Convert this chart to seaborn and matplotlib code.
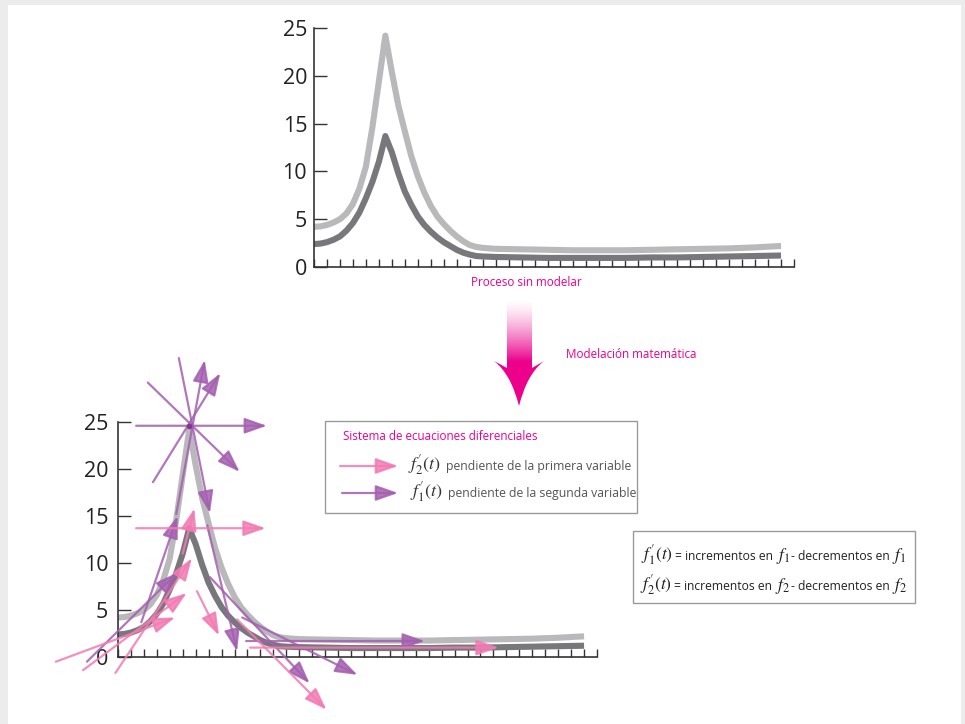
import numpy as np
import pandas as pd
import matplotlib
matplotlib.use("Agg")
import matplotlib.pyplot as plt
import seaborn as sns
from matplotlib.patches import Rectangle, PathPatch
from matplotlib.path import Path

# ---- data -------------------------------------------------------------
t = [0, 0.5, 1, 1.5, 2, 2.5, 3, 3.5, 4, 4.5, 5, 5.5, 6, 6.5, 7, 7.5, 8,
     8.5, 9, 9.5, 10, 10.5, 11, 11.5, 12, 12.5, 13, 14, 16, 18, 20, 22,
     24, 26, 28, 30, 32, 34, 36]
f_light = [4.2, 4.25, 4.4, 4.65, 5.0, 5.6, 6.6, 8.2, 10.5, 14.6, 19.4,
           24.2, 20.4, 16.9, 14.2, 11.6, 9.5, 7.8, 6.4, 5.3, 4.5, 3.8, 3.2,
           2.7, 2.3, 2.1, 2.0, 1.9, 1.85, 1.8, 1.75, 1.75, 1.75, 1.8, 1.85,
           1.9, 1.95, 2.05, 2.2]
f_dark = [2.4, 2.45, 2.6, 2.85, 3.2, 3.8, 4.6, 5.7, 7.2, 8.9, 11.0, 13.7,
          12.0, 9.8, 7.9, 6.5, 5.3, 4.4, 3.7, 3.1, 2.6, 2.2, 1.8, 1.5, 1.3,
          1.15, 1.1, 1.05, 1.0, 0.95, 0.95, 0.95, 0.95, 1.0, 1.0, 1.05,
          1.1, 1.15, 1.2]

x_ticks = list(range(0, 38))
y_ticks = [0, 5, 10, 15, 20, 25]

# slope arrows on the modelled chart: (t start, value start, t end, value end)
purple_arrows = [
    (1.4, 24.6, 11.5, 24.6),
    (2.7, 18.6, 7.9, 30.2),
    (4.5, 15.2, 6.7, 31.6),
    (4.7, 31.8, 7.1, 15.3),
    (2.3, 29.2, 9.4, 19.7),
    (-2.4, -0.5, 4.6, 9.0),
    (1.8, 3.7, 4.6, 15.0),
    (6.9, 14.0, 9.2, 0.6),
    (7.1, 8.5, 14.8, -2.8),
    (9.6, 4.2, 18.5, -1.9),
    (9.9, 1.7, 23.7, 1.7),
]
pink_arrows = [
    (1.4, 13.7, 11.4, 13.7),
    (10.2, 1.0, 29.4, 1.0),
    (-4.8, -0.5, 4.4, 4.2),
    (-2.7, -1.4, 5.3, 6.8),
    (-0.2, -1.7, 5.7, 10.5),
    (5.0, 11.0, 5.9, 15.8),
    (6.1, 7.0, 7.8, 2.3),
    (9.2, 4.0, 16.1, -5.6),
]
star_center = (5.5, 24.6)

# ---- style ------------------------------------------------------------
LIGHT = "#b9b9bc"
DARK = "#78787c"
PURPLE = "#a45fb0"
PINK = "#f27bb3"
MAGENTA = "#ec008c"
AXIS = "#333333"
TEXT_GREY = "#555555"

sns.set_theme(style="white")
plt.rcParams["font.family"] = ["Open Sans", "DejaVu Sans"]
plt.rcParams["mathtext.fontset"] = "stix"

W, H = 965, 724
fig = plt.figure(figsize=(W / 100, H / 100), dpi=100, facecolor="#ececec")

# background canvas in pixel coordinates
bg = fig.add_axes([0, 0, 1, 1], zorder=0)
bg.set_axis_off()
bg.add_patch(Rectangle((8, 5), 953, 720, facecolor="white", edgecolor="none"))

df = pd.DataFrame({"t": t, "light": f_light, "dark": f_dark})


def draw_chart(ax):
    ax.set_facecolor("none")
    sns.lineplot(data=df, x="t", y="light", ax=ax, color=LIGHT, lw=4.4,
                 solid_capstyle="butt", solid_joinstyle="round", zorder=2)
    sns.lineplot(data=df, x="t", y="dark", ax=ax, color=DARK, lw=4.4,
                 solid_capstyle="butt", solid_joinstyle="round", zorder=2)
    ax.set_xlim(0, 37)
    ax.set_ylim(0, 25)
    ax.set_xticks(x_ticks)
    ax.set_yticks(y_ticks)
    ax.set_xlabel("")
    ax.set_ylabel("")
    for side in ("top", "right"):
        ax.spines[side].set_visible(False)
    for side in ("left", "bottom"):
        ax.spines[side].set_color(AXIS)
        ax.spines[side].set_linewidth(1.2)
    ax.tick_params(axis="x", direction="in", length=6, width=1.0,
                   color=AXIS, bottom=True, labelbottom=False)
    ax.tick_params(axis="y", direction="in", length=9, width=1.0,
                   color=AXIS, left=True, pad=5, labelsize=15.5,
                   labelcolor="#222222")


# ---- top chart: unmodelled process -----------------------------------
ax1 = fig.add_axes([314 / W, 1 - 267 / H, 480 / W, 239 / H], zorder=1)
draw_chart(ax1)

# ---- bottom chart: with slope arrows ---------------------------------
ax2 = fig.add_axes([118 / W, 1 - 657 / H, 479 / W, 235 / H], zorder=1)
draw_chart(ax2)
ax2.tick_params(axis="y", pad=7)


def slope_arrow(ax, a, color, coords="data"):
    x0, y0, x1, y1 = a
    ax.annotate("", xy=(x1, y1), xytext=(x0, y0), xycoords=coords,
                textcoords=coords, annotation_clip=False,
                arrowprops=dict(arrowstyle="-|>,head_length=0.85,head_width=0.3",
                                mutation_scale=16, lw=1.6, color=color,
                                alpha=0.85, shrinkA=0, shrinkB=0),
                zorder=3)


for a in purple_arrows:
    slope_arrow(ax2, a, PURPLE)
for a in pink_arrows:
    slope_arrow(ax2, a, PINK)
ax2.plot([star_center[0]], [star_center[1]], "o", color="#7d3a8c", ms=3,
         clip_on=False, zorder=4)

# ---- annotations on the canvas (pixel coordinates) --------------------
renderer = fig.canvas.get_renderer()


def text_runs(x, y, runs, ha="left"):
    """Write pieces of text of different sizes on one shared baseline."""
    items = []
    total = 0.0
    for s, size, color, gap in runs:
        tx = bg.text(0, y, s, fontsize=size, color=color, ha="left",
                     va="baseline", zorder=3)
        w = tx.get_window_extent(renderer).width
        items.append((tx, w, gap))
        total += w + gap
    total -= items[-1][2]
    start = x - total / 2 if ha == "center" else x
    for tx, w, gap in items:
        tx.set_x(start)
        start += w + gap


bg.text(526, 283, "Proceso sin modelar", color=MAGENTA, fontsize=8.4,
        ha="center", va="center")

# gradient arrow for the modelling step
rgb = matplotlib.colors.to_rgb(MAGENTA)
n = 200
grad = np.zeros((n, 1, 4))
grad[..., 0], grad[..., 1], grad[..., 2] = rgb
grad[:, 0, 3] = np.clip(np.linspace(0.05, 1.15, n), 0, 1) ** 1.4
bg.imshow(grad, extent=(507, 532, 371, 302), aspect="auto",
          interpolation="bilinear", zorder=1)
head = Path([(494, 361), (511, 374), (519, 406), (527, 374), (544, 361),
             (532, 368), (507, 368), (494, 361)],
            [Path.MOVETO, Path.CURVE3, Path.CURVE3, Path.CURVE3, Path.CURVE3,
             Path.LINETO, Path.LINETO, Path.CLOSEPOLY])
bg.add_patch(PathPatch(head, facecolor=MAGENTA, edgecolor="none", zorder=2))
bg.set_xlim(0, W)
bg.set_ylim(H, 0)

bg.text(566, 354, "Modelación matemática", color=MAGENTA, fontsize=8.4,
        ha="left", va="center")

# legend box
bg.add_patch(Rectangle((325, 421), 312, 92, facecolor="white",
                       edgecolor="#9a9a9a", lw=1.0, zorder=1))
bg.text(343, 437, "Sistema de ecuaciones diferenciales", color=MAGENTA,
        fontsize=8.4, ha="left", va="center", zorder=3)
slope_arrow(bg, (340, 466, 398, 466), PINK)
slope_arrow(bg, (342, 493, 398, 493), PURPLE)
text_runs(408, 470, [(r"$f_{2}^{\prime}(t)$", 13, "#333333", 5),
                     ("pendiente de la primera variable", 8.8, TEXT_GREY, 0)])
text_runs(410, 497, [(r"$f_{1}^{\prime}(t)$", 13, "#333333", 5),
                     ("pendiente de la segunda variable", 8.8, TEXT_GREY, 0)])

# equations box
bg.add_patch(Rectangle((633, 531), 282, 72, facecolor="white",
                       edgecolor="#9a9a9a", lw=1.0, zorder=1))
for k, base in ((1, 560), (2, 590)):
    text_runs(774, base, [
        (rf"$f_{{{k}}}^{{\prime}}(t)$", 12.5, "#222222", 2),
        ("= incrementos en", 8.7, "#222222", 3),
        (rf"$f_{k}$", 12.5, "#222222", 0),
        ("- decrementos en", 8.7, "#222222", 3),
        (rf"$f_{k}$", 12.5, "#222222", 0),
    ], ha="center")

fig.savefig("out.png", dpi=100, facecolor=fig.get_facecolor())
